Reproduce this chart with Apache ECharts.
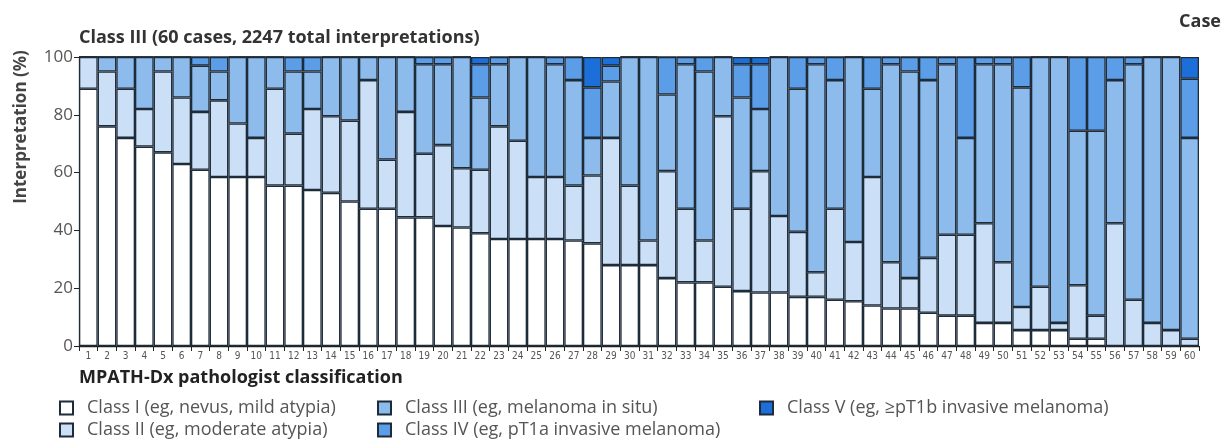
<!DOCTYPE html>
<html>
<head>
<meta charset="utf-8">
<script src="https://cdn.jsdelivr.net/npm/echarts@6/dist/echarts.min.js"></script>
<style>
  html, body { margin: 0; padding: 0; background: #fff; }
  #chart { width: 1221px; height: 441px; }
</style>
</head>
<body>
<div id="chart"></div>
<script>
// case numbers 1..60
var cases = ['1','2','3','4','5','6','7','8','9','10','11','12','13','14','15','16','17','18','19','20',
  '21','22','23','24','25','26','27','28','29','30','31','32','33','34','35','36','37','38','39','40',
  '41','42','43','44','45','46','47','48','49','50','51','52','53','54','55','56','57','58','59','60']

var yTicks = [0, 20, 40, 60, 80, 100]

// % of interpretations per class
var classI = [89, 76, 72, 69, 67, 63, 61, 58.5, 58.5, 58.5, 55.5, 55.5, 54, 53, 50, 47.5, 47.5, 44.5, 44.5, 41.5,
  41, 39, 37, 37, 37, 37, 36.5, 35.5, 28, 28, 28, 23.5, 22, 22, 20.5, 19, 18.5, 18.5, 17, 17,
  16, 15.5, 14, 13, 13, 11.5, 10.5, 10.5, 8, 8, 5.5, 5.5, 5.5, 2.5, 2.5, 0, 0, 0, 0, 0]
var classII = [11, 19, 17, 13, 28, 23, 20, 26.5, 18.5, 13.5, 33.5, 18, 28, 26.5, 28, 44.5, 17, 36.5, 22, 28,
  20.5, 22, 39, 34, 21.5, 21.5, 19, 23.5, 44, 27.5, 8.5, 37, 25.5, 14.5, 59, 28.5, 42, 26.5, 22.5, 8.5,
  31.5, 20.5, 44.5, 16, 10.5, 19, 28, 28, 34.5, 21, 8, 15, 2.5, 18.5, 8, 42.5, 16, 8, 5.5, 2.5]
var classIII = [0, 5, 11, 18, 5, 14, 16, 10, 23, 28, 11, 21.5, 13, 20.5, 22, 8, 35.5, 19, 31, 28,
  38.5, 25, 21.5, 29, 41.5, 39, 36.5, 13, 19.5, 44.5, 63.5, 26.5, 50, 58.5, 20.5, 38.5, 21.5, 55, 49.5, 72,
  44.5, 64, 30.5, 68.5, 71.5, 61.5, 59, 33.5, 55, 68.5, 76, 79.5, 92, 53.5, 64, 49.5, 81.5, 92, 94.5, 69.5]
var classIV = [0, 0, 0, 0, 0, 0, 3, 5, 0, 0, 0, 5, 5, 0, 0, 0, 0, 0, 2.5, 2.5,
  0, 11.5, 2.5, 0, 0, 2.5, 8, 17.5, 5.5, 0, 0, 13, 2.5, 5, 0, 11.5, 15.5, 0, 11, 2.5,
  8, 0, 11, 2.5, 5, 8, 2.5, 28, 2.5, 2.5, 10.5, 0, 0, 25.5, 25.5, 8, 2.5, 0, 0, 20.5]
var classV = [0, 0, 0, 0, 0, 0, 0, 0, 0, 0, 0, 0, 0, 0, 0, 0, 0, 0, 0, 0,
  0, 2.5, 0, 0, 0, 0, 0, 10.5, 3, 0, 0, 0, 0, 0, 0, 2.5, 2.5, 0, 0, 0,
  0, 0, 0, 0, 0, 0, 0, 0, 0, 0, 0, 0, 0, 0, 0, 0, 0, 0, 0, 7.5]

var classNames = [
  'Class I (eg, nevus, mild atypia)',
  'Class II (eg, moderate atypia)',
  'Class III (eg, melanoma in situ)',
  'Class IV (eg, pT1a invasive melanoma)',
  'Class V (eg, \u2265pT1b invasive melanoma)'
]
var classColors = ['#ffffff', '#cbe0f6', '#8cbbec', '#5b9de6', '#1c6fd8']

var font = '"Open Sans", "Noto Sans", sans-serif'
var chart = echarts.init(document.getElementById('chart'))

function makeSeries(i, data) {
  return {
    name: classNames[i],
    type: 'bar',
    stack: 'total',
    barCategoryGap: '0%',
    data: data,
    itemStyle: {
      color: classColors[i],
      borderColor: '#1e2b38',
      borderWidth: 1.3
    },
    animation: false
  }
}

var legendText = { fontFamily: font, fontSize: 18, lineHeight: 18, color: '#555', padding: [0, 0, 0, 9] }

function makeLegend(left, names) {
  return {
    left: left, top: 399, height: 42, padding: 0, orient: 'vertical',
    itemWidth: 13, itemHeight: 13, itemGap: 4, icon: 'rect',
    data: names, textStyle: legendText, selectedMode: false
  }
}

chart.setOption({
  grid: { left: 79, right: 22, top: 57, bottom: 95 },
  graphic: [
    { type: 'text', left: 79, top: 29,
      style: { text: 'Class III (60 cases, 2247 total interpretations)', font: 'bold 18px ' + font, fill: '#333' } },
    { type: 'text', right: 0, top: 13,
      style: { text: 'Case', font: 'bold 18px ' + font, fill: '#333' } },
    { type: 'text', x: 21, y: 127, rotation: Math.PI / 2,
      style: { text: 'Interpretation (%)', font: 'bold 17px ' + font, fill: '#444', align: 'center', verticalAlign: 'middle' } },
    { type: 'text', left: 79, top: 369,
      style: { text: 'MPATH-Dx pathologist classification', font: 'bold 18px ' + font, fill: '#222' } }
  ],
  legend: [
    makeLegend(59, [classNames[0], classNames[1]]),
    makeLegend(377, [classNames[2], classNames[3]]),
    makeLegend(759, [classNames[4]])
  ],
  xAxis: {
    type: 'category',
    data: cases,
    axisLine: { lineStyle: { color: '#222', width: 1.3 } },
    axisTick: { show: true, length: 5, lineStyle: { color: '#222' } },
    axisLabel: { interval: 0, margin: 5, fontFamily: '"DejaVu Sans Condensed", sans-serif', fontSize: 10, color: '#555' }
  },
  yAxis: {
    type: 'value',
    min: yTicks[0],
    max: yTicks[yTicks.length - 1],
    interval: 20,
    axisLine: { show: true, lineStyle: { color: '#222', width: 1.3 } },
    axisTick: { show: true, length: 5, lineStyle: { color: '#222' } },
    axisLabel: { fontFamily: font, fontSize: 17, color: '#555', margin: 6 },
    splitLine: { show: false }
  },
  series: [
    makeSeries(0, classI),
    makeSeries(1, classII),
    makeSeries(2, classIII),
    makeSeries(3, classIV),
    makeSeries(4, classV)
  ]
})
</script>
</body>
</html>
